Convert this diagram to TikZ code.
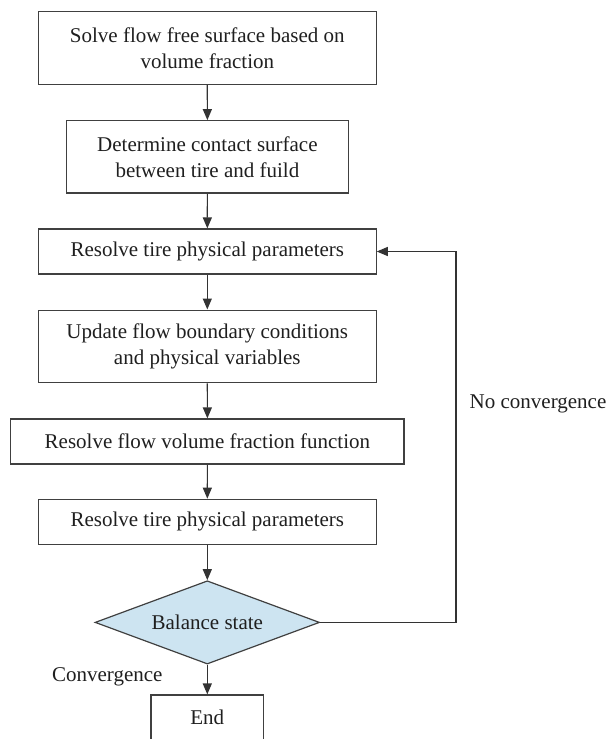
\documentclass[tikz,border=0pt]{standalone}
\usepackage{fontspec}
\setmainfont{Liberation Serif}
\usepackage{xcolor}
\usetikzlibrary{shapes.geometric,arrows.meta}

\begin{document}
\begin{tikzpicture}[x=0.5pt, y=-0.5pt,
    every node/.style={font=\fontsize{10.5}{13}\selectfont, text=black!88},
    stepbox/.style={draw=black!75, line width=0.6pt, align=center, inner sep=0pt},
    flowarrow/.style={draw=black!80, line width=0.6pt, -{Triangle[length=5.5pt,width=4.5pt]}}]
    % Define colors
    \definecolor{decisionfill}{RGB}{205,228,241}

    \useasboundingbox (0,0) rectangle (608,739);

    % Process steps
    \node[stepbox, minimum width=168.85pt, minimum height=36.3pt] (surface) at (207.3,48)
        {Solve flow free surface based on\\volume fraction};
    \node[stepbox, minimum width=140.75pt, minimum height=36.15pt] (contact) at (207.4,156.9)
        {Determine contact surface\\between tire and fuild};
    \node[stepbox, minimum width=168.85pt, minimum height=22.5pt] (tireA) at (207.3,251.5)
        {Resolve tire physical parameters};
    \node[stepbox, minimum width=168.85pt, minimum height=36.3pt] (update) at (207.3,346.4)
        {Update flow boundary conditions\\and physical variables};
    \node[stepbox, minimum width=196.65pt, minimum height=22.5pt] (fraction) at (207.4,441.5)
        {Resolve flow volume fraction function};
    \node[stepbox, minimum width=168.85pt, minimum height=22.5pt] (tireB) at (207.3,521.8)
        {Resolve tire physical parameters};

    % Decision and end
    \node[stepbox, diamond, fill=decisionfill, aspect=2.7, minimum width=112.25pt, minimum height=41.65pt] (balance) at (207.3,622.4)
        {Balance state};
    \node[stepbox, minimum width=56.25pt, minimum height=22.25pt] (finish) at (207.3,717.25)
        {End};

    % Labels
    \node[anchor=base west, inner sep=0pt] (noconv) at (469.3,408) {No convergence};
    \node[anchor=base west, inner sep=0pt] (conv) at (51.7,681.7) {Convergence};

    % Main flow
    \draw[flowarrow] (surface) -- (contact);
    \draw[flowarrow] (contact) -- (tireA);
    \draw[flowarrow] (tireA) -- (update);
    \draw[flowarrow] (update) -- (fraction);
    \draw[flowarrow] (fraction) -- (tireB);
    \draw[flowarrow] (tireB) -- (balance);
    \draw[flowarrow] (balance) -- (finish);

    % Feedback loop
    \coordinate (loop) at (456,251.5);
    \draw[flowarrow] (balance.east) -| (loop) -- (tireA.east);
\end{tikzpicture}
\end{document}
